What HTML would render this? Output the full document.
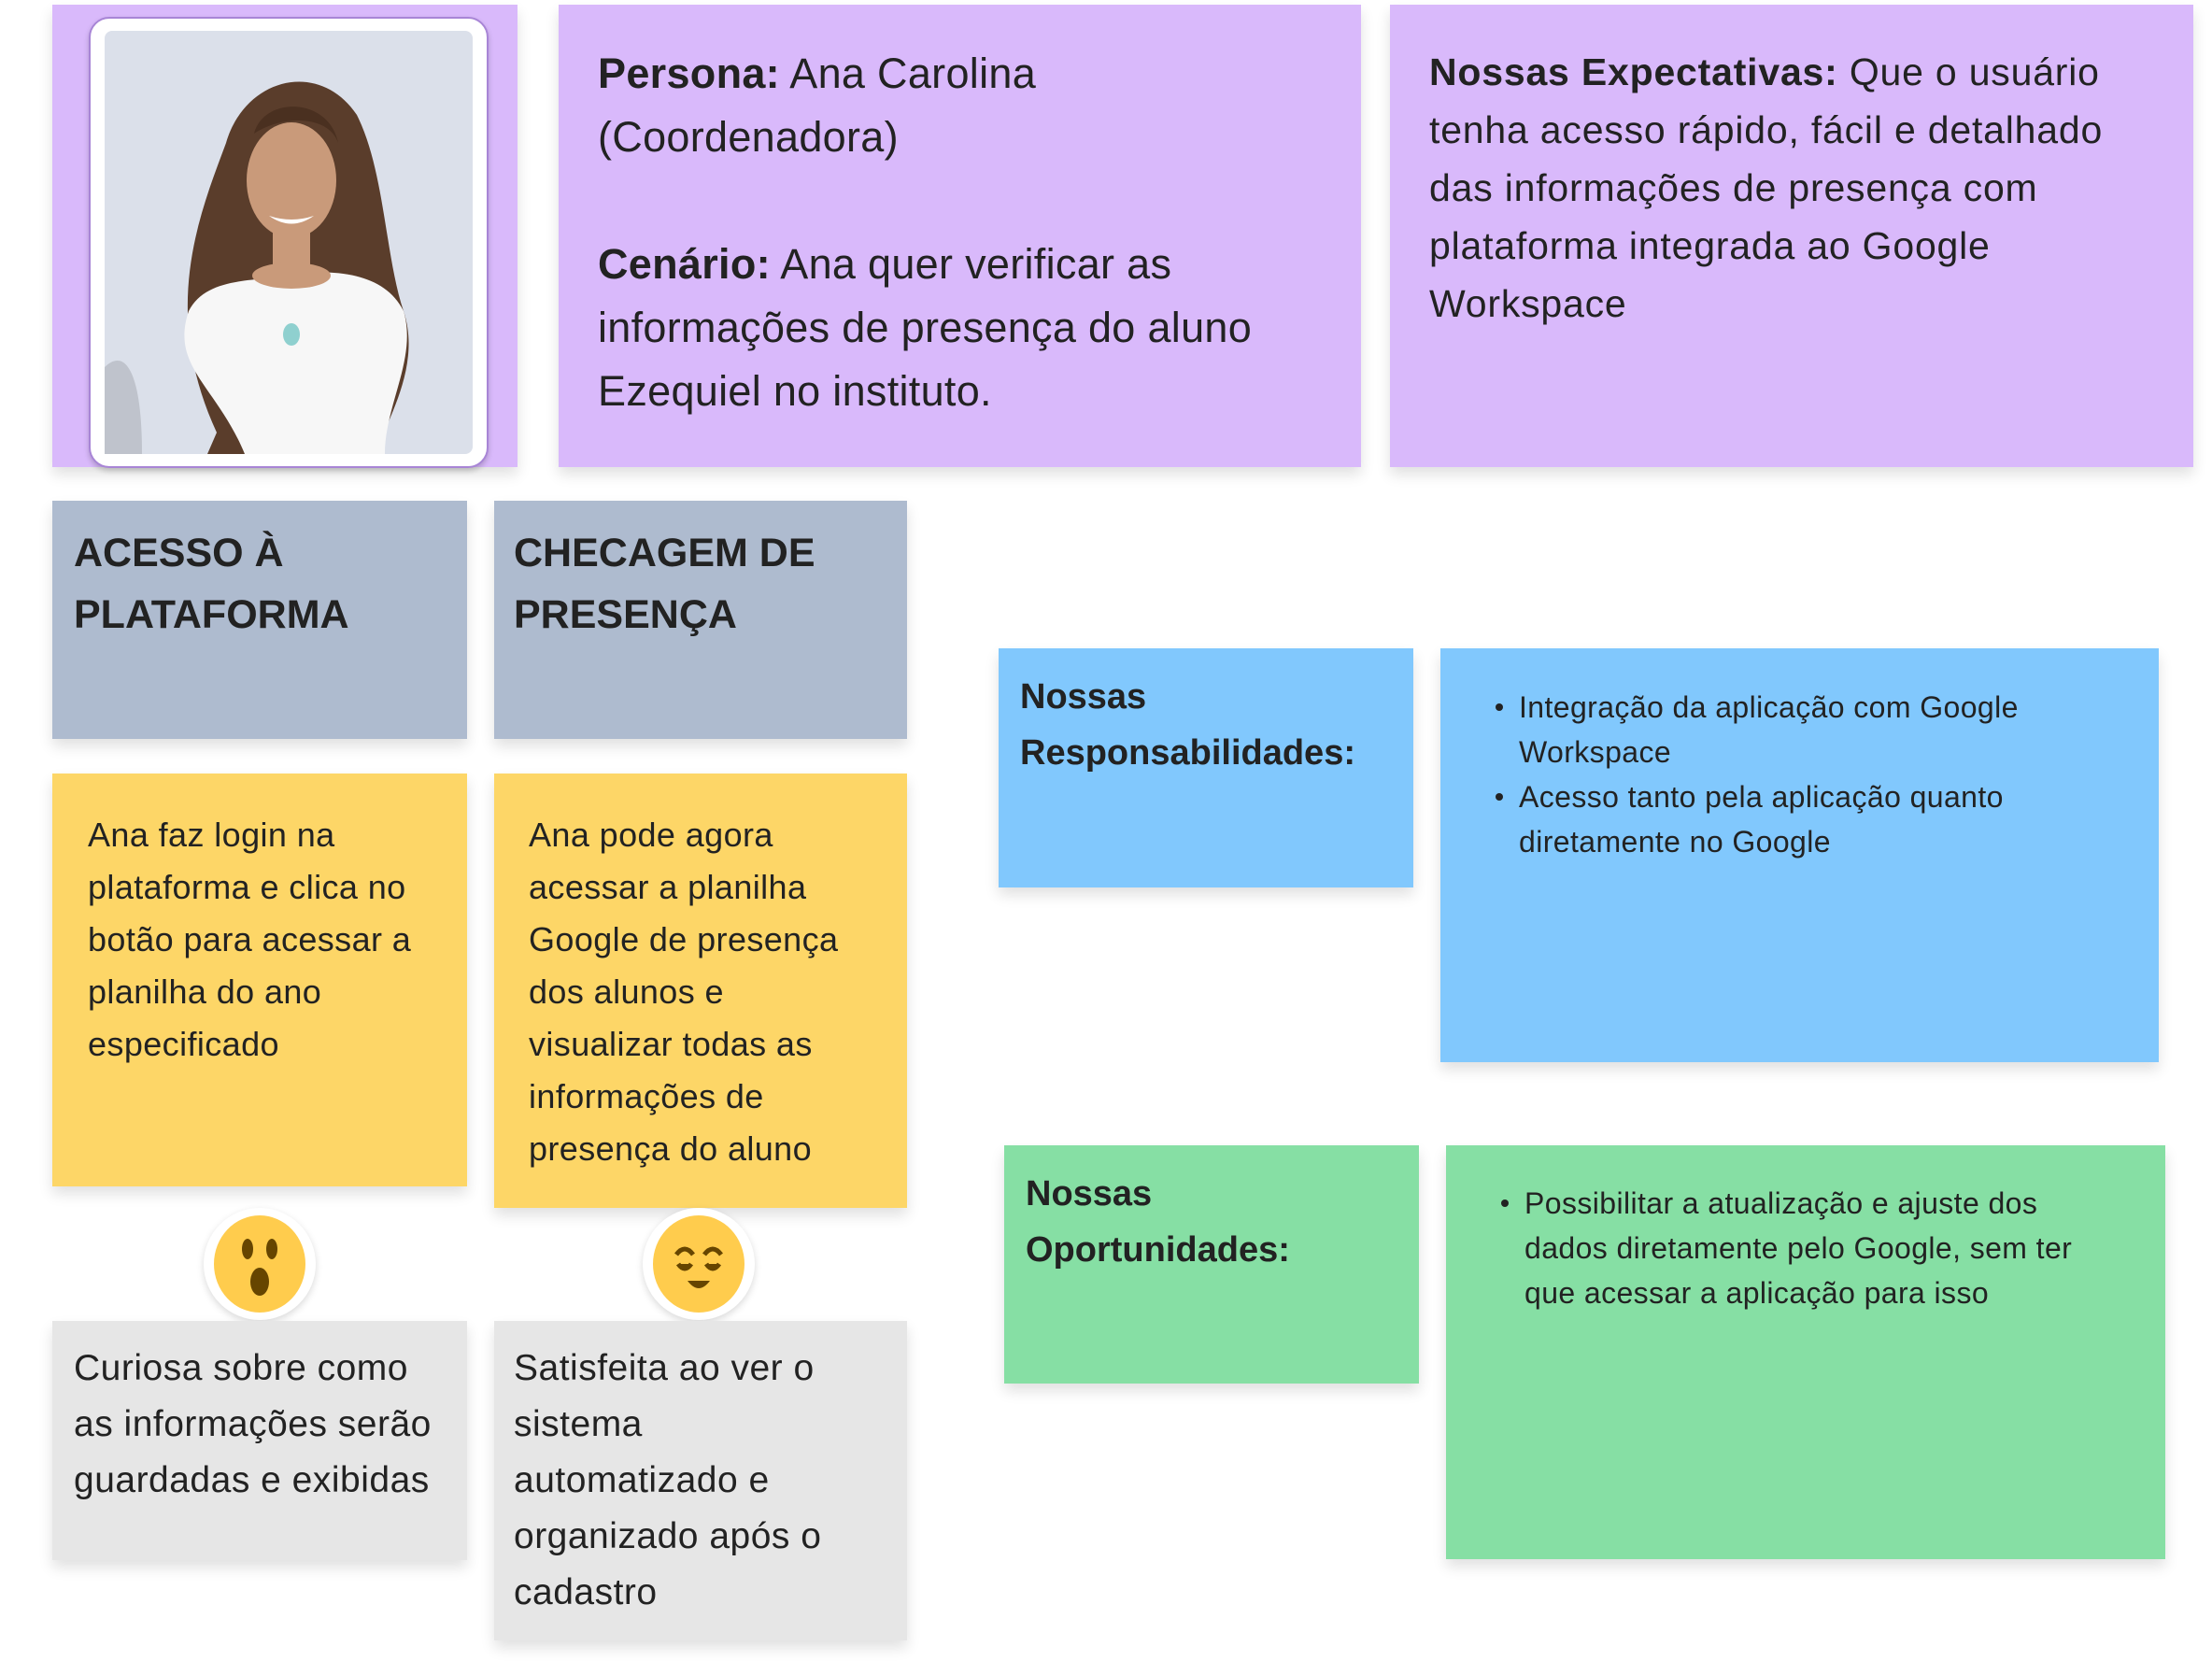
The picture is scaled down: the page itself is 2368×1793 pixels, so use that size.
<!DOCTYPE html>
<html><head><meta charset="utf-8"><style>
*{margin:0;padding:0;box-sizing:border-box}
body{width:2368px;height:1793px;background:#fff;position:relative;overflow:hidden;font-family:"Liberation Sans",sans-serif;color:#222}
.b{position:absolute;box-shadow:0 8px 14px rgba(0,0,0,0.12)}
.t{position:absolute;white-space:nowrap}
ul{list-style:none}
.bl{position:absolute;font-size:32px;line-height:48px;white-space:nowrap;letter-spacing:0.4px}
.bl li{position:relative;padding-left:25px}
.bl li.c:before{content:"";position:absolute;left:0;top:20px;width:8px;height:8px;border-radius:50%;background:#222}
.emo{position:absolute;width:120px;height:120px;border-radius:50%;background:#fff;box-shadow:0 3px 8px rgba(0,0,0,0.15)}
</style></head><body>

<div class="b" style="left:56px;top:5px;width:498px;height:495px;background:#d9b9fb"></div>
<div style="position:absolute;left:95px;top:18px;width:428px;height:483px;background:#fff;border:2px solid #a885d6;border-radius:22px;box-shadow:0 3px 6px rgba(0,0,0,0.2)"></div>
<svg style="position:absolute;left:112px;top:33px" width="394" height="453" viewBox="0 0 394 453">
<rect width="394" height="453" rx="8" fill="#dbe0ea"/>
<path d="M120 430 C60 300 100 200 130 120 C150 50 230 30 270 90 C300 150 300 240 320 300 C340 360 300 420 290 453 L110 453Z" fill="#5a3d2b"/>
<path d="M150 453 C120 380 70 360 90 300 C110 260 170 270 200 260 C250 255 300 260 320 300 C335 350 300 400 300 453Z" fill="#f7f7f7"/>
<ellipse cx="200" cy="160" rx="48" ry="62" fill="#c99a7a"/>
<path d="M176 198 Q200 215 224 198 Q200 206 176 198Z" fill="#fff"/>
<path d="M160 110 C170 70 240 70 250 120 C240 90 190 90 160 110Z" fill="#4a3020"/>
<rect x="180" y="215" width="40" height="45" fill="#c99a7a"/>
<ellipse cx="200" cy="262" rx="42" ry="14" fill="#c99a7a"/>
<path d="M0 360 C20 340 40 360 40 453 L0 453Z" fill="#bfc3cc"/>
<ellipse cx="200" cy="325" rx="9" ry="12" fill="#8fd0cf"/>
</svg>

<div class="b" style="left:598px;top:5px;width:859px;height:495px;background:#d9b9fb"></div>
<div class="t" style="left:640px;top:45px;font-size:45px;line-height:68px;letter-spacing:0.3px">
<b>Persona:</b> Ana Carolina<br>(Coordenadora)<br><br><b>Cenário:</b> Ana quer verificar as<br>informações de presença do aluno<br>Ezequiel no instituto.</div>

<div class="b" style="left:1488px;top:5px;width:860px;height:495px;background:#d9b9fb"></div>
<div class="t" style="left:1530px;top:46px;font-size:41px;line-height:62px;letter-spacing:0.8px">
<b>Nossas Expectativas:</b> Que o usuário<br>tenha acesso rápido, fácil e detalhado<br>das informações de presença com<br>plataforma integrada ao Google<br>Workspace</div>

<div class="b" style="left:56px;top:536px;width:444px;height:255px;background:#aebbcf"></div>
<div class="t" style="left:79px;top:559px;font-size:43px;line-height:66px;font-weight:bold">ACESSO À<br>PLATAFORMA</div>
<div class="b" style="left:529px;top:536px;width:442px;height:255px;background:#aebbcf"></div>
<div class="t" style="left:550px;top:559px;font-size:43px;line-height:66px;font-weight:bold">CHECAGEM DE<br>PRESENÇA</div>

<div class="b" style="left:56px;top:828px;width:444px;height:442px;background:#fdd667"></div>
<div class="t" style="left:94px;top:866px;font-size:36px;line-height:56px;letter-spacing:0.4px">Ana faz login na<br>plataforma e clica no<br>botão para acessar a<br>planilha do ano<br>especificado</div>
<div class="b" style="left:529px;top:828px;width:442px;height:465px;background:#fdd667"></div>
<div class="t" style="left:566px;top:866px;font-size:36px;line-height:56px;letter-spacing:0.4px">Ana pode agora<br>acessar a planilha<br>Google de presença<br>dos alunos e<br>visualizar todas as<br>informações de<br>presença do aluno</div>

<div class="emo" style="left:218px;top:1293px"><svg width="120" height="120"><ellipse cx="60" cy="60" rx="49" ry="52" fill="#ffcc4d"/><ellipse cx="47" cy="44" rx="6" ry="11" fill="#664500"/><ellipse cx="73" cy="44" rx="6" ry="11" fill="#664500"/><ellipse cx="60" cy="79" rx="10" ry="15" fill="#664500"/></svg></div>
<div class="emo" style="left:688px;top:1293px"><svg width="120" height="120"><ellipse cx="60" cy="60" rx="49" ry="52" fill="#ffcc4d"/><path d="M36 50 Q45 38 54 50 M66 50 Q75 38 84 50" stroke="#664500" stroke-width="5" fill="none"/><path d="M38 60 Q45 70 52 60 M68 60 Q75 70 82 60" stroke="#664500" stroke-width="5" fill="#664500"/><path d="M48 78 Q60 94 72 78Z" fill="#664500"/></svg></div>

<div class="b" style="left:56px;top:1414px;width:444px;height:256px;background:#e6e6e6"></div>
<div class="t" style="left:79px;top:1435px;font-size:39px;line-height:60px;letter-spacing:0.5px">Curiosa sobre como<br>as informações serão<br>guardadas e exibidas</div>
<div class="b" style="left:529px;top:1414px;width:442px;height:342px;background:#e6e6e6"></div>
<div class="t" style="left:550px;top:1435px;font-size:39px;line-height:60px;letter-spacing:0.5px">Satisfeita ao ver o<br>sistema<br>automatizado e<br>organizado após o<br>cadastro</div>

<div class="b" style="left:1069px;top:694px;width:444px;height:256px;background:#81c8fd"></div>
<div class="t" style="left:1092px;top:716px;font-size:38px;line-height:60px;font-weight:bold">Nossas<br>Responsabilidades:</div>
<div class="b" style="left:1542px;top:694px;width:769px;height:443px;background:#81c8fd"></div>
<ul class="bl" style="left:1601px;top:733px"><li class="c">Integração da aplicação com Google</li><li>Workspace</li><li class="c">Acesso tanto pela aplicação quanto</li><li>diretamente no Google</li></ul>

<div class="b" style="left:1075px;top:1226px;width:444px;height:255px;background:#86dfa4"></div>
<div class="t" style="left:1098px;top:1248px;font-size:38px;line-height:60px;font-weight:bold">Nossas<br>Oportunidades:</div>
<div class="b" style="left:1548px;top:1226px;width:770px;height:443px;background:#86dfa4"></div>
<ul class="bl" style="left:1607px;top:1264px"><li class="c">Possibilitar a atualização e ajuste dos</li><li>dados diretamente pelo Google, sem ter</li><li>que acessar a aplicação para isso</li></ul>

</body></html>
